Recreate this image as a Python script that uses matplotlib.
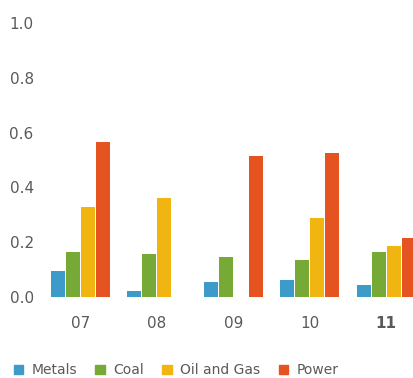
import numpy as np
import matplotlib
matplotlib.use("Agg")
import matplotlib.pyplot as plt
from matplotlib.patches import Patch

years = ["07", "08", "09", "10", "11"]
metals = [0.095, 0.022, 0.055, 0.062, 0.044]
coal = [0.164, 0.156, 0.145, 0.135, 0.164]
oil_gas = [0.327, 0.360, 0.0, 0.287, 0.185]
power = [0.564, 0.0, 0.513, 0.524, 0.215]

series = ["Metals", "Coal", "Oil and Gas", "Power"]
colors = ["#3d9bc9", "#76a935", "#f0b510", "#e55420"]
text_color = "#5a5a5a"

plt.rcParams["font.family"] = ["DejaVu Sans"]

fig = plt.figure(figsize=(4.13, 3.78), dpi=100)
ax = fig.add_axes([42 / 413, 81 / 378, 371 / 413, 274 / 378])

x = np.arange(len(years))
width = 0.183
pitch = 0.196
for i, (vals, c) in enumerate(zip([metals, coal, oil_gas, power], colors)):
    ax.bar(x + (i - 1.5) * pitch, vals, width, color=c, clip_on=False)

ax.set_xlim(-0.5, 4.35)
ax.set_ylim(0, 1.0)
ax.set_yticks(np.arange(0, 1.01, 0.2))
ax.set_yticklabels([f"{v:.1f}" for v in np.arange(0, 1.01, 0.2)])
ax.set_xticks(x)
ax.set_xticklabels(years)
for lbl in ax.get_xticklabels():
    if lbl.get_text() == "11":
        lbl.set_fontweight("bold")

ax.tick_params(length=0, labelsize=11, colors=text_color)
ax.tick_params(axis="x", pad=14)
ax.tick_params(axis="y", pad=6)
for s in ax.spines.values():
    s.set_visible(False)

handles = [Patch(color=c, label=s) for s, c in zip(series, colors)]
fig.legend(handles=handles, loc="center left", bbox_to_anchor=(0.003, 0.02),
           ncol=4, frameon=False, fontsize=10, handlelength=0.7,
           handleheight=0.7, handletextpad=0.6, columnspacing=1.3,
           labelcolor=text_color)

fig.savefig("out.png", dpi=100)
